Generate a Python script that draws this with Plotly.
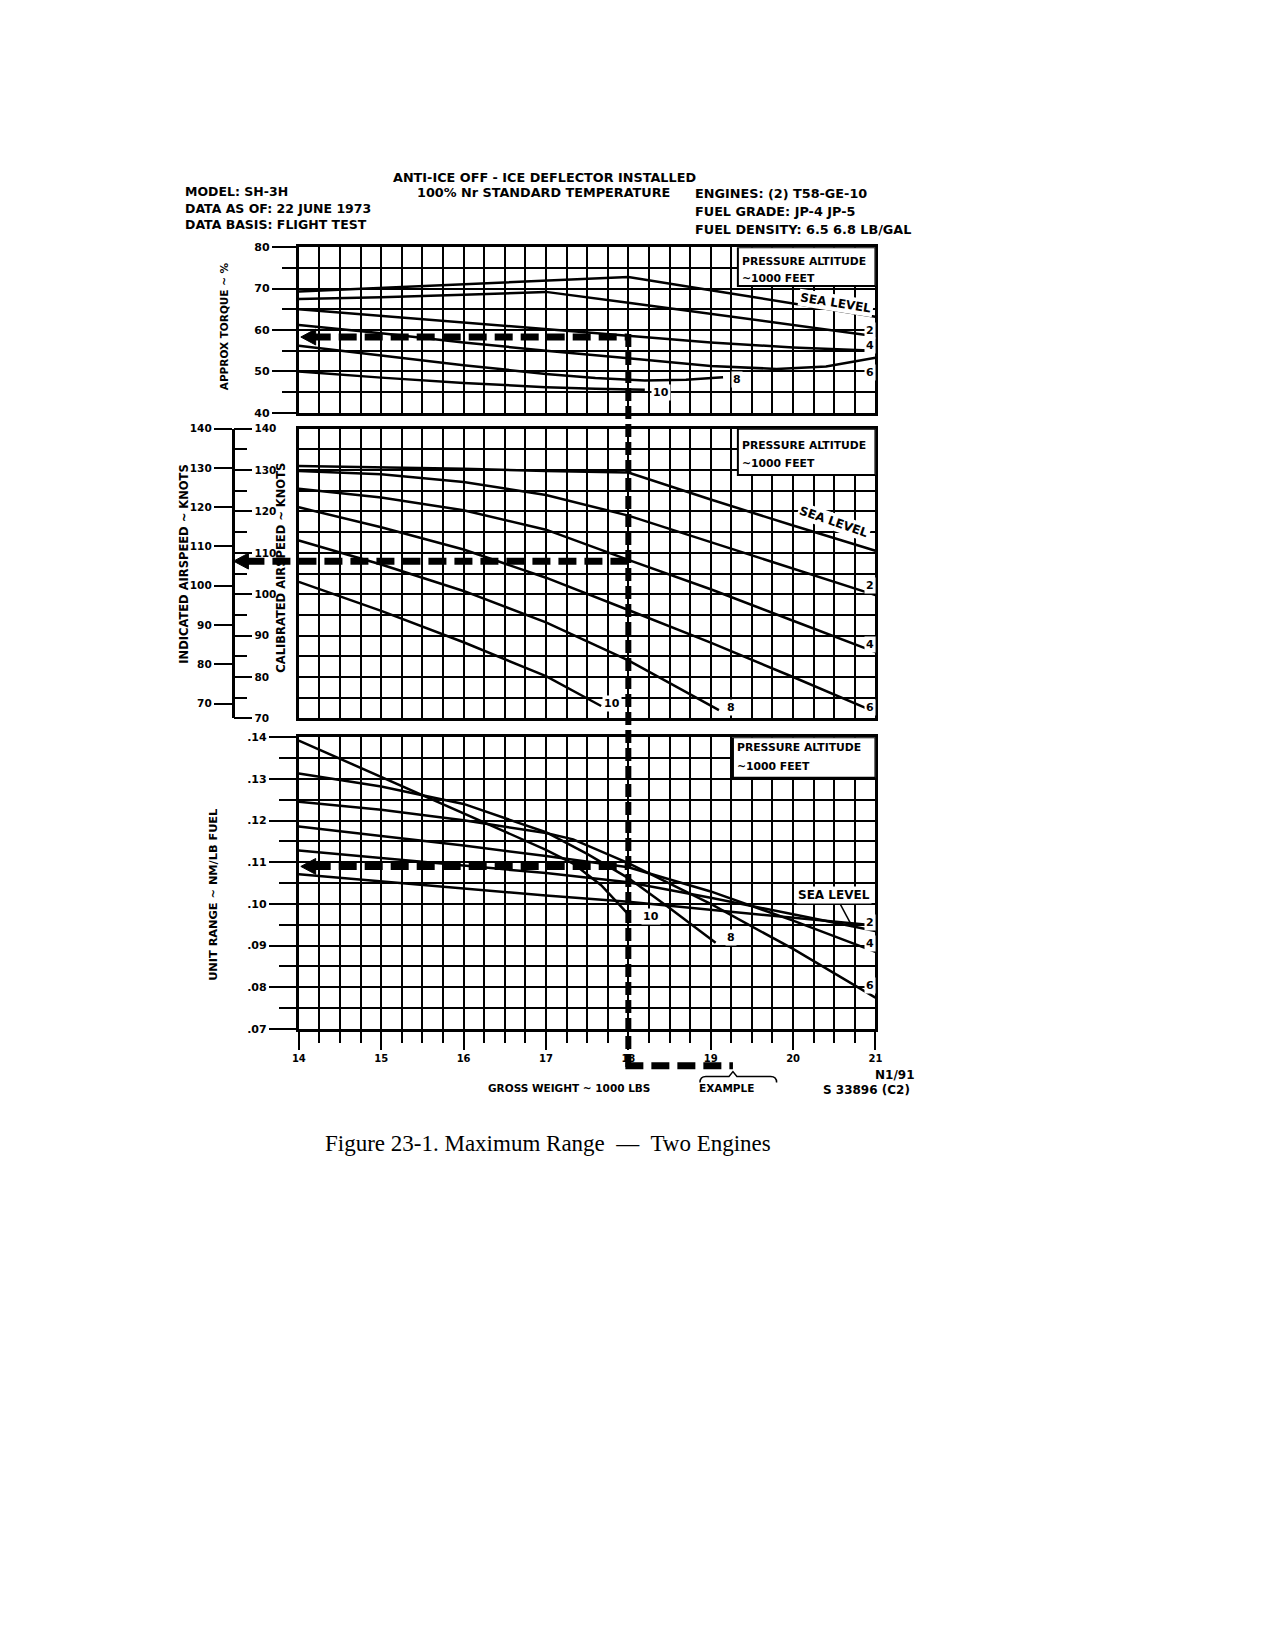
import plotly.graph_objects as go

W, H = 1275, 1650
FONT = "DejaVu Sans"

# ---------------- data ----------------
GW = [14, 15, 16, 17, 18, 19, 20, 21]

# approx torque ~ %
TQ_SL = [69.3, 70.2, 71.0, 71.9, 72.8, 69.6, 66.4, 63.2]
TQ_2 = [67.5, 67.9, 68.5, 69.2, 66.6, 63.9, 61.2, 58.5]
TQ_4 = [65.0, 63.4, 61.8, 60.1, 58.5, 57.0, 55.8, 55.0]
TQ_6_GW = [14, 15, 16, 17, 18, 19, 19.8, 20.4, 21]
TQ_6 = [61.2, 59.2, 57.0, 55.0, 53.2, 51.3, 50.6, 51.2, 53.3]
TQ_8_GW = [14, 15, 16, 17, 17.6, 18.2, 18.7, 19.15]
TQ_8 = [56.2, 53.8, 51.5, 49.4, 48.4, 47.8, 48.0, 48.6]
TQ_10_GW = [14, 15, 16, 17, 17.6, 18.2]
TQ_10 = [50.0, 48.5, 47.2, 46.2, 45.8, 45.6]

# calibrated airspeed ~ knots
CAS_SL = [131.0, 130.7, 130.3, 129.8, 129.4, 122.9, 116.6, 110.5]
CAS_2 = [129.8, 129.0, 127.1, 124.0, 119.0, 112.6, 106.2, 99.8]
CAS_4 = [125.5, 123.4, 120.3, 115.6, 108.3, 101.2, 93.6, 86.0]
CAS_6 = [121.0, 116.2, 110.8, 104.0, 96.2, 88.3, 80.0, 71.5]
CAS_8_GW = [14, 15, 16, 17, 18, 19.1]
CAS_8 = [113.0, 107.2, 100.8, 93.2, 84.0, 72.0]
CAS_10_GW = [14, 15, 16, 17, 17.67]
CAS_10 = [103.0, 96.0, 88.4, 80.2, 73.0]

# unit range ~ NM/LB fuel
UR_SL = [0.1071, 0.1054, 0.1037, 0.1020, 0.1005, 0.0986, 0.0967, 0.0948]
UR_2 = [0.1128, 0.1110, 0.1092, 0.1074, 0.1052, 0.1015, 0.0975, 0.0935]
UR_4 = [0.1186, 0.1163, 0.1140, 0.1115, 0.1088, 0.1030, 0.0960, 0.0885]
UR_6_GW = [14, 15, 16, 17, 17.33, 18, 19, 20, 21]
UR_6 = [0.1245, 0.1226, 0.1201, 0.1170, 0.1155, 0.1098, 0.1000, 0.0892, 0.0775]
UR_8_GW = [14, 15, 16, 17, 17.5, 18, 18.5, 19.06]
UR_8 = [0.1313, 0.1282, 0.1240, 0.1172, 0.1120, 0.1062, 0.0990, 0.0907]
UR_10_GW = [14, 15, 16, 17, 17.33, 17.67, 18.0]
UR_10 = [0.1392, 0.1305, 0.1218, 0.1130, 0.1097, 0.1045, 0.0975]

# worked example
EX_GW = 18.0
EX_TORQUE = 58.3
EX_CAS = 108.0
EX_RANGE = 0.109
EX_SAMPLE_END = 19.27

TQ_TICKS = [40, 50, 60, 70, 80]
AS_TICKS = [70, 80, 90, 100, 110, 120, 130, 140]
UR_TICKS = [0.07, 0.08, 0.09, 0.10, 0.11, 0.12, 0.13, 0.14]
UR_TICKTEXT = [".07", ".08", ".09", ".10", ".11", ".12", ".13", ".14"]
GW_TICKS = [14, 15, 16, 17, 18, 19, 20, 21]

# ---------------- page geometry (pixels) ----------------
X0, X1 = 287, 870
TOP = (235, 402)
MID = (418, 710)
BOT = (729, 1023)
IND = (418, 695)
AXIS_X = 220


def px(v):
    return X0 + (v - 14) * (X1 - X0) / 7


def fx(p):
    return p / W


def fy(p):
    return 1 - p / H


def top_px(v):
    return TOP[0] + (80 - v) * (TOP[1] - TOP[0]) / 40


def mid_px(v):
    return MID[0] + (140 - v) * (MID[1] - MID[0]) / 70


def bot_px(v):
    return BOT[0] + (0.14 - v) * (BOT[1] - BOT[0]) / 0.07


def dom(rng):
    return [fy(rng[1]), fy(rng[0])]


fig = go.Figure()


def curve(x, y, xa, ya):
    fig.add_trace(go.Scatter(x=x, y=y, xaxis=xa, yaxis=ya, mode="lines",
                             line=dict(color="black", width=2.5),
                             hoverinfo="skip", showlegend=False))


for xs, ys in [(GW, TQ_SL), (GW, TQ_2), (GW, TQ_4), (TQ_6_GW, TQ_6),
               (TQ_8_GW, TQ_8), (TQ_10_GW, TQ_10)]:
    curve(xs, ys, "x", "y")
for xs, ys in [(GW, CAS_SL), (GW, CAS_2), (GW, CAS_4), (GW, CAS_6),
               (CAS_8_GW, CAS_8), (CAS_10_GW, CAS_10)]:
    curve(xs, ys, "x2", "y2")
for xs, ys in [(GW, UR_SL), (GW, UR_2), (GW, UR_4), (UR_6_GW, UR_6),
               (UR_8_GW, UR_8), (UR_10_GW, UR_10)]:
    curve(xs, ys, "x3", "y3")

# dummy traces so the two free airspeed scales get drawn
fig.add_trace(go.Scatter(x=[None], y=[None], xaxis="x4", yaxis="y4", showlegend=False))
fig.add_trace(go.Scatter(x=[None], y=[None], xaxis="x4", yaxis="y5", showlegend=False))

tick_font = dict(family=FONT, size=11, color="black", weight="bold")
grid = dict(showgrid=True, gridcolor="black", gridwidth=2, zeroline=False,
            showline=True, linecolor="black", linewidth=3, mirror=True)


def xaxis(anchor, show_ticks):
    ax = dict(grid, anchor=anchor, domain=[fx(X0), fx(X1)], range=[14, 21], tickvals=GW_TICKS,
              minor=dict(dtick=0.25, tick0=14, showgrid=True, gridcolor="black", gridwidth=2))
    if show_ticks:
        ax.update(ticks="outside", ticklen=18, tickwidth=2, tickcolor="black",
                  tickfont=dict(family=FONT, size=10, color="black", weight="bold"))
        ax["minor"].update(ticks="outside", ticklen=11, tickwidth=2, tickcolor="black")
    else:
        ax.update(showticklabels=False, ticks="")
    return ax


fig.update_layout(
    width=W, height=H, margin=dict(l=0, r=0, t=0, b=0),
    paper_bgcolor="white", plot_bgcolor="white", showlegend=False,
    xaxis=xaxis("y", False), xaxis2=xaxis("y2", False), xaxis3=xaxis("y3", True),
    xaxis4=dict(domain=[0, 0.01], range=[0, 1], visible=False, anchor="y4"),
    yaxis=dict(grid, anchor="x", domain=dom(TOP), range=[40, 80], tickvals=TQ_TICKS,
               ticks="outside", ticklen=24, tickwidth=2, tickcolor="black", tickfont=tick_font,
               minor=dict(dtick=5, tick0=40, ticks="outside", ticklen=14, tickwidth=2,
                          tickcolor="black", showgrid=True, gridcolor="black", gridwidth=2)),
    yaxis2=dict(grid, anchor="x2", domain=dom(MID), range=[70, 140], tickvals=AS_TICKS,
                showticklabels=False, ticks="",
                minor=dict(dtick=5, tick0=70, showgrid=True, gridcolor="black", gridwidth=2)),
    yaxis3=dict(grid, anchor="x3", domain=dom(BOT), range=[0.07, 0.14], tickvals=UR_TICKS,
                ticktext=UR_TICKTEXT, ticks="outside", ticklen=27, tickwidth=2,
                tickcolor="black", tickfont=tick_font,
                minor=dict(dtick=0.005, tick0=0.07, ticks="outside", ticklen=17, tickwidth=2,
                           tickcolor="black", showgrid=True, gridcolor="black", gridwidth=2)),
    # indicated airspeed scale (left side of the shared spine)
    yaxis4=dict(domain=dom(IND), range=[70, 140], tickvals=AS_TICKS, anchor="free",
                position=fx(AXIS_X), side="left", showgrid=False, zeroline=False,
                showline=True, linecolor="black", linewidth=2.5, ticks="outside",
                ticklen=18, tickwidth=2, tickcolor="black",
                tickfont=dict(family=FONT, size=10.5, color="black", weight="bold")),
    # calibrated airspeed scale (right side of the shared spine)
    yaxis5=dict(domain=dom(MID), range=[70, 140], tickvals=AS_TICKS, anchor="free",
                position=fx(AXIS_X), side="right", showgrid=False, zeroline=False,
                showline=True, linecolor="black", linewidth=2.5, ticks="outside",
                ticklen=18, tickwidth=2, tickcolor="black",
                tickfont=dict(family=FONT, size=10.5, color="black", weight="bold"),
                minor=dict(dtick=5, tick0=70, ticks="outside", ticklen=13, tickwidth=2,
                           tickcolor="black")),
)

# ---------------- boxes, labels ----------------
shapes = []
annos = []


def text(t, x, y, size=11, xanchor="center", xref="paper", yref="paper", angle=0,
         bg=None, family=FONT, weight="bold"):
    if xref == "paper":
        x = fx(x)
    if yref == "paper":
        y = fy(y)
    a = dict(text=t, x=x, y=y, xref=xref, yref=yref, showarrow=False, xanchor=xanchor,
             yanchor="middle", textangle=angle,
             font=dict(family=family, size=size, color="black", weight=weight))
    if bg:
        a.update(bgcolor=bg, borderpad=1)
    annos.append(a)


# legend boxes in each panel
for xr, yr, x0, ytop, ybot, y1, y2 in [
    ("x", "y", 19.33, 80, 70.6, 76.6, 72.4),
    ("x2", "y2", 19.33, 140, 128.8, 136.0, 131.6),
    ("x3", "y3", 19.27, 0.14, 0.1303, 0.1375, 0.1330),
]:
    shapes.append(dict(type="rect", xref=xr, yref=yr, x0=x0, x1=21, y0=ybot, y1=ytop,
                       fillcolor="white", line=dict(color="black", width=2), layer="above"))
    text("PRESSURE ALTITUDE", x0 + 0.03, y1, size=10.8, xanchor="left", xref=xr, yref=yr)
    text("~1000 FEET", x0 + 0.02, y2, size=10.8, xanchor="left", xref=xr, yref=yr)

# torque panel labels
text("SEA LEVEL", 20.52, 66.6, size=12, xref="x", yref="y", angle=9, bg="white")
for t, x, y in [("2", 20.93, 59.8), ("4", 20.93, 56.3), ("6", 20.93, 49.8),
                ("8", 19.32, 48.0), ("10", 18.4, 44.9)]:
    text(t, x, y, size=11, xref="x", yref="y", bg="white")

# airspeed panel labels
text("SEA LEVEL", 20.5, 117.5, size=12, xref="x2", yref="y2", angle=19, bg="white")
for t, x, y in [("2", 20.93, 102.0), ("4", 20.93, 87.8), ("6", 20.93, 72.7),
                ("8", 19.25, 72.6), ("10", 17.8, 73.5)]:
    text(t, x, y, size=11, xref="x2", yref="y2", bg="white")

# unit range panel labels
text("SEA LEVEL", 20.5, 0.1022, size=12, xref="x3", yref="y3", bg="white")
shapes.append(dict(type="line", xref="x3", yref="y3", x0=20.55, x1=20.72, y0=0.1008, y1=0.0945,
                   line=dict(color="black", width=1.5)))
for t, x, y in [("2", 20.93, 0.0955), ("4", 20.93, 0.0905), ("6", 20.93, 0.0805),
                ("8", 19.25, 0.0919), ("10", 18.27, 0.0969)]:
    text(t, x, y, size=11, xref="x3", yref="y3", bg="white")

# ---------------- worked example (dashed path) ----------------
DASH_H = "18px,8px"
DASH_V = "13px,5px"


def pline(xa, ya, xb, yb, dash, width=7):
    shapes.append(dict(type="line", xref="paper", yref="paper",
                       x0=fx(xa), y0=fy(ya), x1=fx(xb), y1=fy(yb),
                       line=dict(color="black", width=width, dash=dash)))


def arrow_head(tip_x, y):
    path = "M {:.5f},{:.5f} L {:.5f},{:.5f} L {:.5f},{:.5f} Z".format(
        fx(tip_x), fy(y), fx(tip_x + 15), fy(y - 8), fx(tip_x + 15), fy(y + 8))
    shapes.append(dict(type="path", xref="paper", yref="paper", path=path,
                       fillcolor="black", line=dict(color="black", width=1)))


xe = px(EX_GW)
pline(px(14) + 14, top_px(EX_TORQUE), xe, top_px(EX_TORQUE), DASH_H)
arrow_head(px(14) + 2, top_px(EX_TORQUE))
pline(AXIS_X + 14, mid_px(EX_CAS), xe, mid_px(EX_CAS), DASH_H)
arrow_head(AXIS_X + 1, mid_px(EX_CAS))
pline(px(14) + 14, bot_px(EX_RANGE), xe, bot_px(EX_RANGE), DASH_H)
arrow_head(px(14) + 2, bot_px(EX_RANGE))
pline(xe, top_px(EX_TORQUE) - 3, xe, 1063, DASH_V, width=6)
pline(xe - 3, 1060, px(EX_SAMPLE_END), 1060, DASH_H)

# brace under the sample dashes
bx0, bxc, bx1 = px(18.87), px(EX_SAMPLE_END), px(19.8)
brace = "M {:.5f},{:.5f} Q {:.5f},{:.5f} {:.5f},{:.5f} L {:.5f},{:.5f} L {:.5f},{:.5f} L {:.5f},{:.5f} L {:.5f},{:.5f} Q {:.5f},{:.5f} {:.5f},{:.5f}".format(
    fx(bx0), fy(1077), fx(bx0), fy(1071), fx(bx0 + 6), fy(1071),
    fx(bxc - 4), fy(1071), fx(bxc), fy(1066), fx(bxc + 4), fy(1071),
    fx(bx1 - 6), fy(1071), fx(bx1), fy(1071), fx(bx1), fy(1077))
shapes.append(dict(type="path", xref="paper", yref="paper", path=brace,
                   line=dict(color="black", width=1.5)))

# ---------------- header, axis titles, footer ----------------
for t, y in [("MODEL: SH-3H", 179), ("DATA AS OF: 22 JUNE 1973", 196),
             ("DATA BASIS: FLIGHT TEST", 212)]:
    text(t, 170, y, size=12.5, xanchor="left")
text("ANTI-ICE OFF - ICE DEFLECTOR INSTALLED", 535, 165, size=12.8)
text("100% Nr STANDARD TEMPERATURE", 534, 180, size=12.8)
for t, y in [("ENGINES: (2) T58-GE-10", 181), ("FUEL GRADE: JP-4 JP-5", 199),
             ("FUEL DENSITY: 6.5 6.8 LB/GAL", 217)]:
    text(t, 686, y, size=12.8, xanchor="left")

text("APPROX TORQUE ~ %", 211, 315, size=10.5, angle=-90)
text("INDICATED AIRSPEED ~ KNOTS", 171, 554, size=11.5, angle=-90)
text("CALIBRATED AIRSPEED ~ KNOTS", 269, 558, size=11.5, angle=-90)
text("UNIT RANGE ~ NM/LB FUEL", 200, 888, size=11.3, angle=-90)

text("GROSS WEIGHT ~ 1000 LBS", 560, 1083, size=10.5)
text("EXAMPLE", 719, 1083, size=10.5)
text("N1/91", 911, 1069, size=12, xanchor="right")
text("S 33896 (C2)", 815, 1085, size=12, xanchor="left")
text("Figure 23-1. Maximum Range  \u2014  Two Engines", 539, 1138, size=23,
     family="Liberation Serif", weight="normal")

fig.update_layout(shapes=shapes, annotations=annos)
fig.write_html("out.html")
